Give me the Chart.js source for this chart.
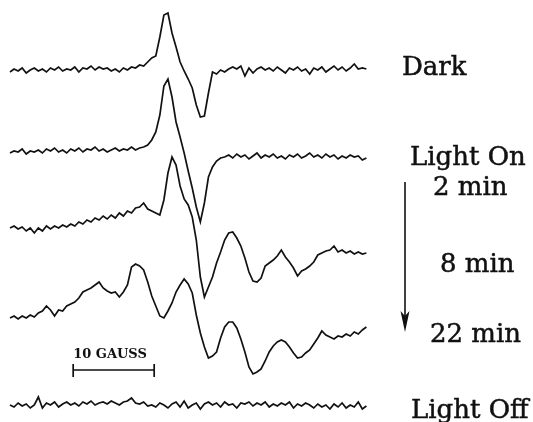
<!DOCTYPE html>
<html>
<head>
<meta charset="utf-8">
<script src="https://cdn.jsdelivr.net/npm/chart.js@4/dist/chart.umd.min.js"></script>
<style>
  html, body { margin: 0; padding: 0; background: #fff; }
</style>
</head>
<body>
<canvas id="epr-chart" width="533" height="422"></canvas>
<script>
// EPR spectra, field sampled every 0.5 gauss (0 .. 44 G)
const fieldStep = 0.5;

// signal heights (arbitrary units, up = positive)
const darkSignal = [
  -2, 1, -1, 2, -3, 0, 2, -1, 1, -2,
  2, 0, 3, -1, 1, 0, 3, -2, 2, 1,
  4, 0, 3, 1, 2, -1, 1, -2, 2, 0,
  3, 2, 5, 4, 8, 12, 14, 33, 55, 57,
  37, 23, 8, -1, -9, -18, -35, -47, -46, -23,
  -2, -4, 0, -2, 1, 3, 1, 4, -6, 2,
  -3, 1, 3, 0, 2, -1, 3, 0, -3, 2,
  0, 3, -1, 1, -4, 2, 0, 3, -2, 1,
  4, 0, 3, -1, 2, 6, 1, 2, 1
];
const lightOnSignal = [
  -1, 1, 0, 3, -2, 1, 0, 2, -1, 3,
  1, 4, 0, 2, -1, 3, 1, 4, 0, 3,
  2, 5, 1, 3, 0, 2, 4, 1, 3, 2,
  5, 2, 4, 5, 7, 12, 20, 37, 66, 73,
  55, 30, 15, -1, -19, -36, -55, -70, -51, -25,
  -15, -9, -6, -5, -3, -6, -2, -5, -3, -7,
  -4, -1, -6, -3, -5, -2, -6, -4, -7, -3,
  -5, -2, -6, -4, -1, -5, -3, -6, -2, -5,
  -3, -7, -4, -6, -3, -5, -4, -8, -6
];
const min8Signal = [
  -1, 1, -2, 0, -4, -1, -6, -1, -4, 1,
  -2, 1, -1, 2, 0, 3, 1, 5, 3, 7,
  5, 9, 7, 11, 8, 12, 9, 14, 11, 16,
  14, 19, 20, 24, 18, 16, 14, 12, 27, 54,
  70, 62, 41, 28, 22, 10, -13, -50, -70, -60,
  -50, -36, -25, -13, -6, -5, -11, -19, -31, -45,
  -54, -55, -51, -39, -36, -33, -29, -23, -30, -35,
  -41, -49, -44, -42, -39, -35, -28, -26, -24, -23,
  -19, -25, -23, -26, -24, -27, -25, -27, -26
];
const min22Signal = [
  -1, 1, -2, 1, -1, 2, 0, 4, 6, 11,
  7, 1, 7, 6, 11, 13, 15, 19, 25, 27,
  29, 32, 35, 29, 26, 24, 25, 20, 25, 32,
  50, 53, 51, 47, 35, 21, 11, 1, -1, 6,
  14, 25, 32, 38, 33, 24, 2, -16, -30, -41,
  -39, -35, -21, -10, -5, -5, -11, -22, -35, -50,
  -57, -55, -52, -44, -35, -29, -25, -23, -25, -30,
  -36, -41, -40, -36, -33, -27, -21, -14, -18, -20,
  -22, -19, -20, -17, -19, -15, -17, -13, -10
];
const lightOffSignal = [
  0, -2, 2, -1, 1, -3, 0, 8, -3, 2,
  0, 3, -2, 1, 3, 0, 2, -1, 3, 1,
  4, 0, 2, 3, 1, 4, 2, 0, 3, 4,
  7, 2, 1, 3, -1, 0, -2, 2, 0, -3,
  1, 3, -2, 4, -3, 0, 2, -4, 1, 3,
  0, 2, -2, 3, 0, 1, -3, 2, 1, 3,
  -1, 2, 0, 3, -2, 1, -1, 2, 0, 3,
  -3, 1, -1, 2, 0, -3, 1, -2, 0, -4,
  1, -2, 2, -3, 0, -2, 3, -4, -1
];

const traceSignals = [darkSignal, lightOnSignal, min8Signal, min22Signal, lightOffSignal];
const traceOffsets = [0, -82, -157, -247, -335];   // vertical stacking of the spectra
const traceLabels = ['Dark', 'Light On', '2 min', '8 min', '22 min', 'Light Off'];
const scaleBarGauss = 10;
const scaleBarLabel = '10 GAUSS';

const ink = '#111';

const datasets = traceSignals.map((sig, k) => ({
  data: sig.map((v, i) => ({ x: i * fieldStep, y: v + traceOffsets[k] })),
  borderColor: ink,
  borderWidth: 1.7,
  pointRadius: 0,
  tension: 0,
  fill: false
}));

// labels, arrow and scale bar drawn on top of the chart
const annotations = {
  id: 'annotations',
  afterDraw(chart) {
    const c = chart.ctx;
    const xs = chart.scales.x;
    const ys = chart.scales.y;
    c.save();
    c.fillStyle = ink;
    c.strokeStyle = ink;

    // trace labels (slightly stroked to get the heavier print look)
    c.font = "26px 'DejaVu Serif', serif";
    c.textBaseline = 'alphabetic';
    c.lineWidth = 0.5;
    const labelPos = [[402, 75], [410, 165], [433, 195], [440, 272], [430, 342], [411, 418]];
    traceLabels.forEach((t, i) => {
      c.fillText(t, labelPos[i][0], labelPos[i][1]);
      c.strokeText(t, labelPos[i][0], labelPos[i][1]);
    });

    // time arrow
    c.lineWidth = 1.6;
    c.beginPath();
    c.moveTo(405, 182);
    c.lineTo(405, 316);
    c.stroke();
    c.beginPath();
    c.moveTo(405, 332);
    c.lineTo(400.5, 311);
    c.lineTo(405, 316);
    c.lineTo(409.5, 311);
    c.closePath();
    c.fill();

    // 10 gauss scale bar
    const x0 = xs.getPixelForValue(7.8);
    const x1 = xs.getPixelForValue(7.8 + scaleBarGauss);
    const yb = ys.getPixelForValue(-300);
    c.lineWidth = 1.7;
    c.beginPath();
    c.moveTo(x0, yb); c.lineTo(x1, yb);
    c.moveTo(x0, yb - 6); c.lineTo(x0, yb + 7);
    c.moveTo(x1, yb - 6); c.lineTo(x1, yb + 7);
    c.stroke();
    c.font = "bold 13px 'DejaVu Serif', serif";
    c.fillText(scaleBarLabel, x0, yb - 12);

    c.restore();
  }
};

new Chart(document.getElementById('epr-chart'), {
  type: 'line',
  data: { datasets },
  options: {
    responsive: false,
    animation: false,
    layout: { padding: 0 },
    scales: {
      x: { type: 'linear', display: false, min: -1.235, max: 64.57 },
      y: { display: false, min: -352, max: 70 }
    },
    plugins: { legend: { display: false }, tooltip: { enabled: false } }
  },
  plugins: [annotations]
});
</script>
</body>
</html>
